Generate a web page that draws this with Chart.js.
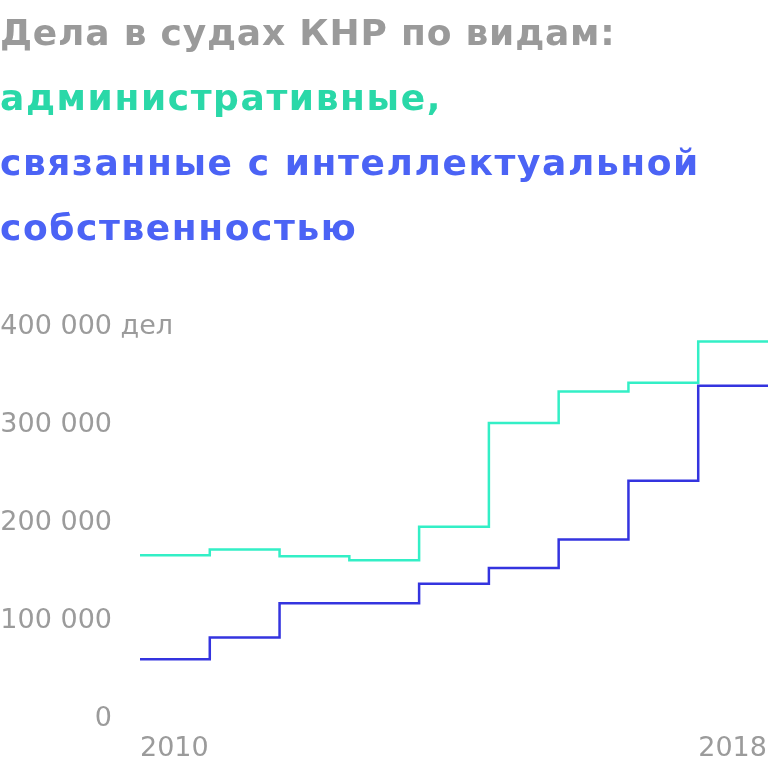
<!DOCTYPE html>
<html lang="ru">
<head>
<meta charset="utf-8">
<script src="https://cdn.jsdelivr.net/npm/chart.js@4"></script>
<style>
    html, body { margin: 0; padding: 0; background: #fff; }
    #wrap { position: relative; width: 768px; height: 768px; overflow: hidden; }
    #title {
        position: absolute; left: 0; top: 0;
        font-family: "DejaVu Sans", sans-serif; font-weight: 700;
        font-size: 36px; line-height: 65px; letter-spacing: 0.8px;
        color: #9a9a9a; white-space: nowrap;
    }
    #title .admin { color: #2ad8a8; letter-spacing: 1.6px; }
    #title .ip { color: #4b63f5; letter-spacing: 1.6px; }
    canvas { position: absolute; left: 0; top: 0; }
</style>
</head>
<body>
<div id="wrap">
    <canvas id="courtChart" width="768" height="768"></canvas>
    <div id="title">
        Дела в судах КНР по видам:<br>
        <span class="admin">административные,</span><br>
        <span class="ip">связанные с интеллектуальной<br>собственностью</span>
    </div>
</div>
<script>
// Court cases in China by type, 2010-2018

const years = [2010, 2011, 2012, 2013, 2014, 2015, 2016, 2017, 2018];
const adminCases = [163000, 169000, 162000, 158000, 192000, 298000, 330000, 339000, 381000];
const ipCases = [57000, 79000, 114000, 114000, 134000, 150000, 179000, 239000, 336000];
const xTickLabels = [2010, 2018];
const yTickValues = [0, 100000, 200000, 300000, 400000];
const unitLabel = 'дел';

const tickColor = '#9b9b9b';
const tickFont = { family: 'DejaVu Sans', size: 27 };
const yLabelShift = 4;

// each year is a step that lasts until the next one
function toSteps(values) {
    const pts = years.map((y, i) => ({ x: y, y: values[i] }));
    pts.push({ x: years[years.length - 1] + 1, y: values[values.length - 1] });
    return pts;
}

function formatThousands(v) {
    return String(v).replace(/\B(?=(\d{3})+(?!\d))/g, ' ');
}

// unit next to the top y label
const unitPlugin = {
    id: 'unitLabel',
    afterDraw(chart) {
        const y = chart.scales.y;
        const ctx = chart.ctx;
        const top = yTickValues[yTickValues.length - 1];
        ctx.save();
        ctx.font = tickFont.size + 'px "' + tickFont.family + '"';
        ctx.fillStyle = tickColor;
        ctx.textAlign = 'left';
        ctx.textBaseline = 'middle';
        const x = y.right - y.options.ticks.padding + ctx.measureText(' ').width;
        ctx.fillText(unitLabel, x, y.getPixelForValue(top) + yLabelShift);
        ctx.restore();
    }
};

document.addEventListener('DOMContentLoaded', () => {
    const ctx = document.getElementById('courtChart').getContext('2d');

    new Chart(ctx, {
        type: 'line',
        data: {
            datasets: [{
                label: 'административные',
                data: toSteps(adminCases),
                borderColor: '#33efc6',
                borderWidth: 2.5,
                stepped: 'before',
                pointRadius: 0,
                fill: false
            }, {
                label: 'связанные с интеллектуальной собственностью',
                data: toSteps(ipCases),
                borderColor: '#3434df',
                borderWidth: 2.5,
                stepped: 'before',
                pointRadius: 0,
                fill: false
            }]
        },
        options: {
            responsive: false,
            animation: false,
            layout: {
                padding: { top: 323, right: 0, bottom: 0, left: 0 }
            },
            plugins: {
                legend: { display: false },
                tooltip: { enabled: false }
            },
            scales: {
                x: {
                    type: 'linear',
                    min: years[0],
                    max: years[years.length - 1] + 1,
                    grid: { display: false, drawTicks: false },
                    border: { display: false },
                    afterBuildTicks: (scale) => {
                        scale.ticks = xTickLabels.map(v => ({ value: v }));
                    },
                    afterFit: (scale) => {
                        scale.height = 53;
                        scale.paddingLeft = 0;
                        scale.paddingRight = 0;
                    },
                    ticks: {
                        align: 'start',
                        maxRotation: 0,
                        autoSkip: false,
                        padding: 18,
                        color: tickColor,
                        font: tickFont,
                        callback: (v) => String(v)
                    }
                },
                y: {
                    min: 0,
                    max: 400000,
                    grid: { display: false, drawTicks: false },
                    border: { display: false },
                    afterBuildTicks: (scale) => {
                        scale.ticks = yTickValues.map(v => ({ value: v }));
                    },
                    afterFit: (scale) => {
                        scale.width = 140;
                        scale.paddingTop = 0;
                        scale.paddingBottom = 0;
                    },
                    ticks: {
                        padding: 28,
                        labelOffset: yLabelShift,
                        color: tickColor,
                        font: tickFont,
                        callback: (v) => formatThousands(v)
                    }
                }
            }
        },
        plugins: [unitPlugin]
    });
});
</script>
</body>
</html>
